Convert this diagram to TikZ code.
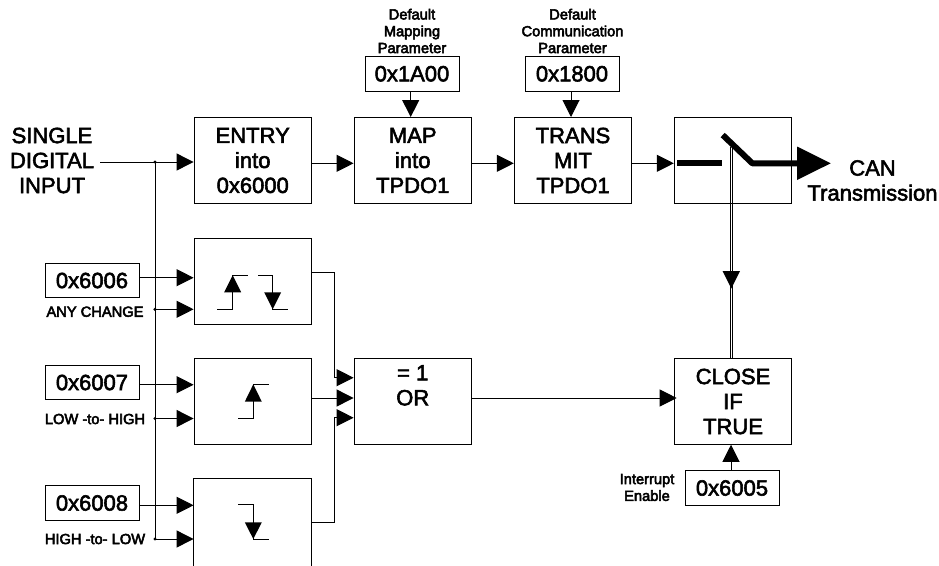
\documentclass[tikz,border=0pt]{standalone}
\usepackage{fontspec}
\setmainfont{Liberation Sans}
\font\bigfnt="Liberation Sans:embolden=2.5" at 16.5pt
\font\smallfnt="Liberation Sans:embolden=3.5" at 11pt
\usetikzlibrary{arrows.meta}
\tikzset{
  x=.75pt,y=-.75pt,
  ln/.style={line width=.75pt,draw=black},
  arr/.style={ln,-{Triangle[length=12.75pt,width=12.75pt]}},
  bx/.style={ln,draw,minimum width=88pt,minimum height=64.5pt,inner sep=0pt,align=center,
    font=\fontsize{16.5}{18.75}\selectfont\bigfnt},
  reg/.style={ln,draw,minimum width=70.5pt,minimum height=26pt,inner sep=0pt,
    font=\fontsize{16.5}{18.75}\selectfont\bigfnt},
  big/.style={inner sep=0pt,align=center,font=\fontsize{16.5}{18.75}\selectfont\bigfnt},
  small/.style={inner sep=0pt,align=center,font=\fontsize{11}{12.6}\selectfont\smallfnt},
  fat/.style={line width=4.5pt,draw=black},
  dot/.style={circle,fill=black,inner sep=0pt,minimum size=2.6pt},
}
\begin{document}
\begin{tikzpicture}
\useasboundingbox (0,0) rectangle (939,565);
% boxes
\node[bx] (entry) at (252.75,160.5) {ENTRY\\into\\0x6000};
\node[bx] (map) at (412.75,160.5) {MAP\\into\\TPDO1};
\node[bx] (trans) at (573,160.5) {TRANS\\MIT\\TPDO1};
\node[bx] (switch) at (733,160.5) {};
\node[bx] (any) at (252.75,281) {};
\node[bx] (rise) at (252.75,401.5) {};
\node[bx,draw=none] (fall) at (252.75,522) {};
\draw[ln] (fall.south west) -- (fall.north west) -- (fall.north east) -- (fall.south east);
\node[bx] (or) at (412.75,401.5) {= 1\\OR\\\strut};
\node[bx] (close) at (733,401.5) {CLOSE\\IF\\TRUE};
% registers
\node[reg] (r6006) at (92,280.5) {0x6006};
\node[reg] (r6007) at (92,382.5) {0x6007};
\node[reg] (r6008) at (92,503) {0x6008};
\node[reg] (r1a00) at (412,73.75) {0x1A00};
\node[reg] (r1800) at (572,73.75) {0x1800};
\node[reg] (r6005) at (732,488) {0x6005};
% labels
\node[big] (input) at (52,160.5) {SINGLE\\DIGITAL\\INPUT};
\node[big] (can) at (872.5,180.5) {CAN\\Transmission};
\node[small] (lany) at (95,311.7) {ANY CHANGE};
\node[small] (llow) at (95,419) {LOW -to- HIGH};
\node[small] (lhigh) at (95,539) {HIGH -to- LOW};
\node[small] (ldefm) at (412,31) {Default\\Mapping\\Parameter};
\node[small] (ldefc) at (572.5,31) {Default\\Communication\\Parameter};
\node[small] (lint) at (647,487.5) {Interrupt\\Enable};
% named points
\coordinate (busTop) at (155,162);
\coordinate (busAny) at (155,309.3);
\coordinate (busRise) at (155,418.5);
\coordinate (busFall) at (155,539);
\coordinate (entryIn) at (entry.west |- busTop);
\coordinate (entryOut) at (311.75,163.3);
\coordinate (mapIn) at (map.west |- entryOut);
\coordinate (mapOut) at (map.east |- entryOut);
\coordinate (transIn) at (trans.west |- entryOut);
\coordinate (transOut) at (trans.east |- entryOut);
\coordinate (swIn) at (switch.west |- entryOut);
% main input
\draw[arr] (100,162) coordinate (inStart) -- (entryIn);
\draw[ln] (busTop) -- (busFall);
\foreach \p in {busTop,busAny,busRise,busFall} \node[dot] at (\p) {};
\draw[arr] (entryOut) -- (mapIn);
\draw[arr] (mapOut) -- (transIn);
\draw[arr] (transOut) -- (swIn);
\draw[arr] (r1a00.south -| 410.7,0) -- (410.7,117) coordinate (mapTop);
\draw[arr] (r1800.south -| 571,0) -- (571,117) coordinate (transTop);
% inputs to edge boxes
\draw[arr] (r6006.east |- 0,277.7) -- (any.west |- 0,277.7);
\draw[arr] (busAny) -- (any.west |- busAny);
\draw[arr] (r6007.east |- 0,384.7) -- (rise.west |- 0,384.7);
\draw[arr] (busRise) -- (rise.west |- busRise);
\draw[arr] (r6008.east |- 0,505.3) -- (fall.west |- 0,505.3);
\draw[arr] (busFall) -- (fall.west |- busFall);
% outputs to OR
\draw[arr] (any.east |- 0,272.7) -- (334.5,272.7) -- (334.5,377.7) -- (or.west |- 0,377.7);
\draw[arr] (rise.east |- 0,398) -- (or.west |- 0,398);
\draw[arr] (fall.east |- 0,522.3) -- (334.5,522.3) -- (334.5,417.7) -- (or.west |- 0,417.7);
% OR to close
\draw[arr] (or.east |- 0,398) -- (676.7,398);
\draw[arr] (r6005.north -| 731,0) -- (731,444.75);
% double line
\draw[ln] (730,147) -- (730,358.5);
\draw[ln] (732.3,147) -- (732.3,358.5);
\fill (722.5,271) -- (740,271) -- (731.3,288.5) -- cycle;
% switch
\draw[fat] (677.3,163.3) -- (722,163.3);
\draw[fat,line join=round] (722.7,135) -- (752.3,163.3) -- (797,163.3);
\fill (797,146.5) -- (830.7,163.3) -- (797,180) -- cycle;
% edge symbols
\draw[ln] (217.3,309.3) -- (232.7,309.3) -- (232.7,275.3) -- (247.7,275.3);
\fill (232.7,275.3) -- (241.2,292.3) -- (224.2,292.3) -- cycle;
\draw[ln] (258.3,275.3) -- (272.7,275.3) -- (272.7,309.3) -- (288.3,309.3);
\fill (272.7,309.3) -- (281.2,292.3) -- (264.2,292.3) -- cycle;
\draw[ln] (238.3,418.3) -- (253.3,418.3) -- (253.3,384.3) -- (268.7,384.3);
\fill (253.3,384.3) -- (261.8,401.7) -- (244.8,401.7) -- cycle;
\draw[ln] (238.3,504.7) -- (253.3,504.7) -- (253.3,539) -- (268.7,539);
\fill (253.3,539) -- (261.8,522.3) -- (244.8,522.3) -- cycle;
\end{tikzpicture}
\end{document}
